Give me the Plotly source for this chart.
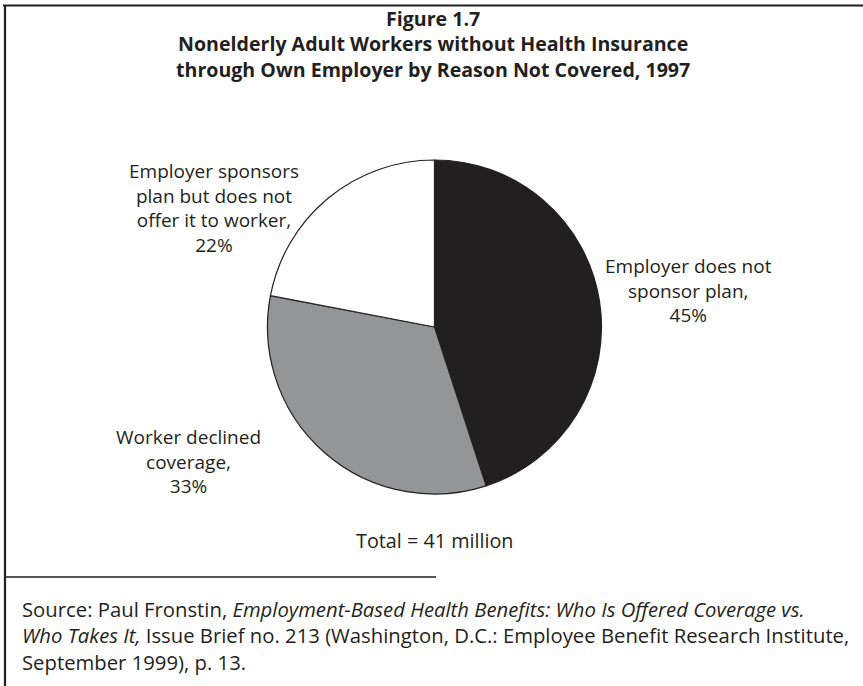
import plotly.graph_objects as go

W, H = 863, 686

# Pie data
reasons = [["Employer does not", "sponsor plan,"],
           ["Worker declined", "coverage,"],
           ["Employer sponsors", "plan but does not", "offer it to worker,"]]
shares = [45, 33, 22]
colors = ["#231f20", "#939598", "#ffffff"]

title_lines = ["Figure 1.7",
               "Nonelderly Adult Workers without Health Insurance",
               "through Own Employer by Reason Not Covered, 1997"]
total_note = "Total = 41 million"
source_lines = [
    "Source: Paul Fronstin, <i>Employment-Based Health Benefits: Who Is Offered Coverage vs.</i>",
    "<i>Who Takes It,</i> Issue Brief no. 213 (Washington, D.C.: Employee Benefit Research Institute,",
    "September 1999), p. 13.",
]

FONT = "Open Sans"
INK = "#231f20"

def px(x):
    return x / W

def py(y):
    return 1 - y / H

cx, cy, r = 434.5, 327, 167

fig = go.Figure(go.Pie(
    values=shares,
    labels=[" ".join(n).rstrip(",") for n in reasons],
    sort=False,
    direction="clockwise",
    rotation=0,
    marker=dict(colors=colors, line=dict(color=INK, width=1.2)),
    textinfo="none",
    hoverinfo="label+percent",
    showlegend=False,
    domain=dict(x=[px(cx - r), px(cx + r)], y=[py(cy + r), py(cy - r)]),
))

annotations = []

def add_text(x, y, text, size, anchor="center", bold=False):
    if bold:
        text = f"<b>{text}</b>"
    annotations.append(dict(x=px(x), y=py(y), text=text, showarrow=False,
                            xanchor=anchor, yanchor="middle", align=anchor,
                            font=dict(family=FONT, size=size, color=INK)))

# Title block
add_text(433, 44, "<br>".join(title_lines), 19.6, bold=True)

# Slice labels (centre of each text block)
label_centres = [(688, 290), (188, 461), (214, 207.5)]
for (x, y), name, v in zip(label_centres, reasons, shares):
    add_text(x, y, "<br>".join(name + [f"{v}%"]), 19)

add_text(435, 540, total_note, 19.8)

add_text(20, 635, "<br>".join(source_lines), 20.3, anchor="left")

shapes = [
    dict(type="line", xref="paper", yref="paper", x0=px(3), x1=1, y0=py(5.5), y1=py(5.5),
         line=dict(color=INK, width=2.2)),
    dict(type="line", xref="paper", yref="paper", x0=px(5), x1=px(5), y0=py(5), y1=0,
         line=dict(color=INK, width=2.2)),
    dict(type="line", xref="paper", yref="paper", x0=px(5), x1=px(436), y0=py(577), y1=py(577),
         line=dict(color=INK, width=1.6)),
]

fig.update_layout(
    width=W, height=H,
    margin=dict(l=0, r=0, t=0, b=0),
    paper_bgcolor="white", plot_bgcolor="white",
    annotations=annotations, shapes=shapes,
)

fig.write_html("out.html")
